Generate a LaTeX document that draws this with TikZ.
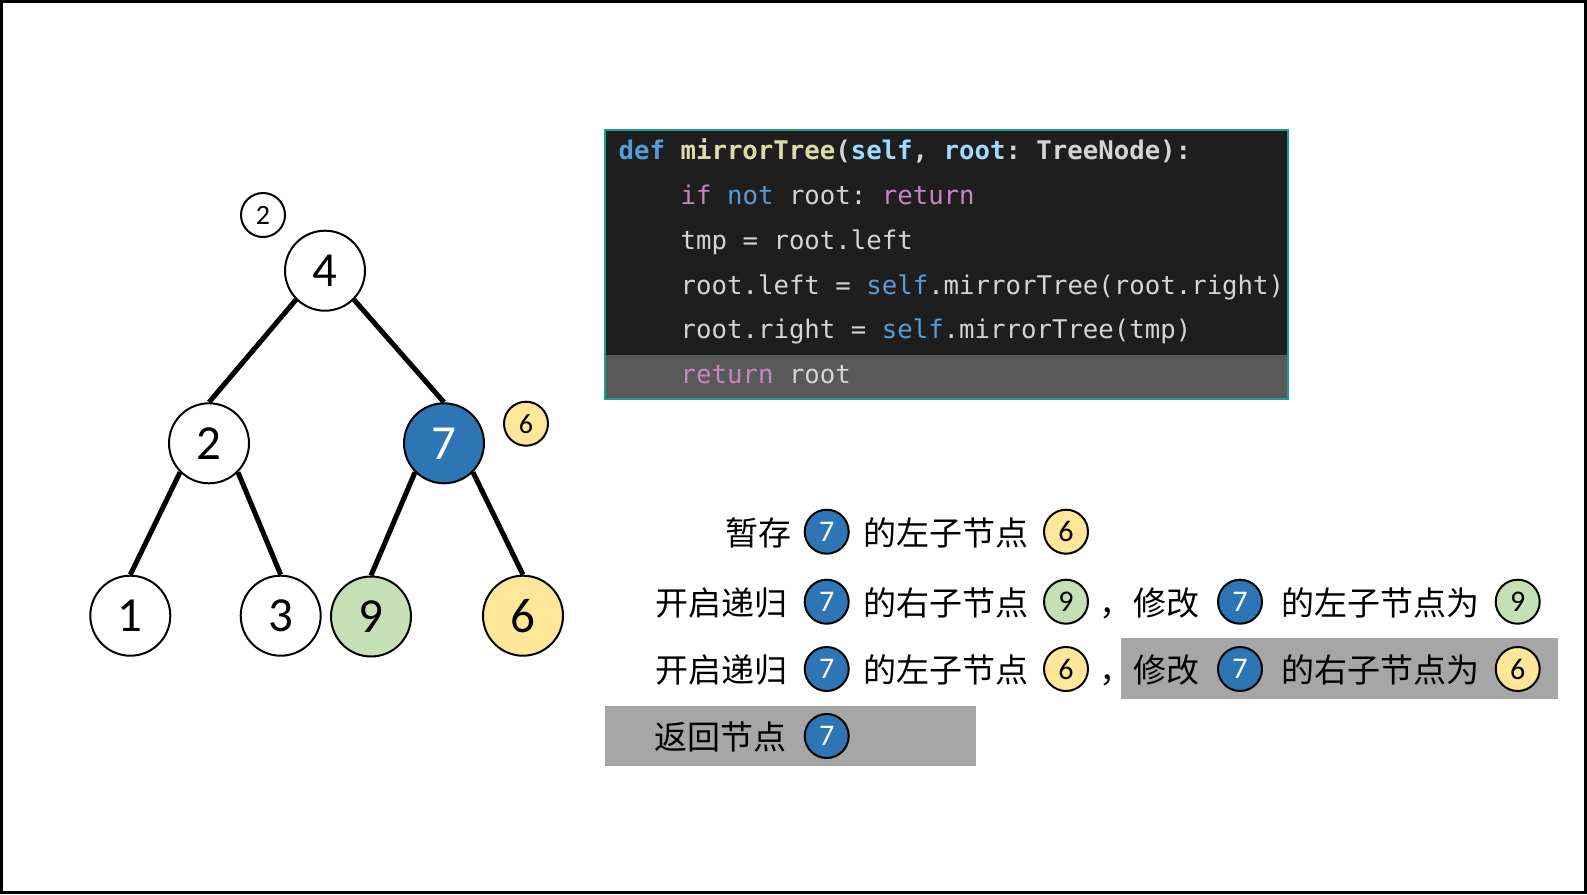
\documentclass[tikz,border=0pt]{standalone}
\usepackage{fontspec}
\setmainfont{Carlito}
\newfontfamily\cjk{Noto Sans CJK SC}
\newfontfamily\codefont{DejaVu Sans Mono}
\usetikzlibrary{backgrounds}
\definecolor{nblue}{HTML}{2E75B6}
\definecolor{nyellow}{HTML}{FFE699}
\definecolor{ngreen}{HTML}{C5E0B4}
\definecolor{hlgray}{HTML}{A6A6A6}
\definecolor{codebg}{HTML}{1E1E1E}
\definecolor{coderow}{HTML}{595959}
\definecolor{codeborder}{HTML}{17A08F}
\definecolor{cfg}{HTML}{D4D4D4}
\definecolor{ckw}{HTML}{569CD6}
\definecolor{cfn}{HTML}{DCDCAA}
\definecolor{cpar}{HTML}{9CDCFE}
\definecolor{cctl}{HTML}{C586C0}
\tikzset{
  tnode/.style={circle, draw=black, line width=2pt, minimum size=80pt, inner sep=0pt, fill=white, font=\fontsize{49}{49}\selectfont},
  snode/.style={circle, draw=black, line width=2pt, minimum size=44pt, inner sep=0pt, fill=white, font=\fontsize{28}{28}\selectfont},
  tcirc/.style={snode, font=\fontsize{30}{30}\selectfont},
  bluec/.style={fill=nblue, text=white},
  yelc/.style={fill=nyellow},
  grnc/.style={fill=ngreen},
  tedge/.style={line width=5pt},
  cn/.style={anchor=base west, inner sep=0pt, font=\cjk\fontsize{33}{33}\selectfont},
  cline/.style={anchor=base west, inner sep=0pt, font=\codefont\fontsize{25.7}{25.7}\selectfont\frenchspacing, text=cfg},
}
\begin{document}
\frenchspacing
\begin{tikzpicture}[x=1pt, y=-1pt]
\useasboundingbox (0,0) rectangle (1587,894);
\draw[line width=3pt] (1.5,1.5) rectangle (1585.5,892.5);

% tree
\node[tnode] (n4) at (325,270.7) {4};
\node[tnode] (n2) at (209,443.3) {2};
\node[tnode, bluec] (n7) at (444,443.3) {7};
\node[tnode] (n1) at (130.3,615.7) {1};
\node[tnode] (n3) at (280.7,615.7) {3};
\node[tnode, grnc] (n9) at (371,616.5) {9};
\node[tnode, yelc] (n6) at (523,615.7) {6};
\node[snode] (s2) at (263,215) {2};
\node[snode, yelc] (s6) at (526,423.7) {6};
\begin{scope}[on background layer]
\draw[tedge] (n4.south west) -- (n2.north);
\draw[tedge] (n4.south east) -- (n7.north);
\draw[tedge] (n2.south west) -- (n1.north);
\draw[tedge] (n2.south east) -- (n3.north);
\draw[tedge] (n7.south west) -- (n9.north);
\draw[tedge] (n7.south east) -- (n6.north);
\end{scope}

% code box
\fill[codebg] (605,130) rectangle (1288,399);
\fill[coderow] (605,355) rectangle (1288,399);
\draw[codeborder, line width=2pt] (605,130) rectangle (1288,399);
\node[cline] (c1) at (618.5,159.3) {\bfseries\textcolor{ckw}{def} \textcolor{cfn}{mirrorTree}(\textcolor{cpar}{self}, \textcolor{cpar}{root}: TreeNode):};
\node[cline] (c2) at (680.5,204.2) {\textcolor{cctl}{if} \textcolor{ckw}{not} root: \textcolor{cctl}{return}};
\node[cline] (c3) at (680.5,249.1) {tmp = root.left};
\node[cline] (c4) at (680.5,294) {root.left = \textcolor{ckw}{self}.mirrorTree(root.right)};
\node[cline] (c5) at (680.5,338.9) {root.right = \textcolor{ckw}{self}.mirrorTree(tmp)};
\node[cline] (c6) at (680.5,383.8) {\textcolor{cctl}{return} root};

% highlight bars
\fill[hlgray] (1120.7,638.3) rectangle (1557.7,699);
\fill[hlgray] (605,706) rectangle (976,766);

% line 1
\node[cn] (t1a) at (725,545.2) {暂存};
\node[tcirc, bluec] (l1a) at (826.7,531.7) {7};
\node[cn] (t1b) at (863.5,545.2) {的左子节点};
\node[tcirc, yelc] (l1b) at (1066,531.7) {6};
% line 2
\node[cn] (t2a) at (655,615.2) {开启递归};
\node[tcirc, bluec] (l2a) at (826.7,601.7) {7};
\node[cn] (t2b) at (863.5,615.2) {的右子节点};
\node[tcirc, grnc] (l2b) at (1066,601.7) {9};
\node[cn] (t2c) at (1099,615.2) {，};
\node[cn] (t2d) at (1133.5,615.2) {修改};
\node[tcirc, bluec] (l2c) at (1240,601.7) {7};
\node[cn] (t2e) at (1281.5,615.2) {的左子节点为};
\node[tcirc, grnc] (l2d) at (1517.7,601.7) {9};
% line 3
\node[cn] (t3a) at (655,682.5) {开启递归};
\node[tcirc, bluec] (l3a) at (826.7,669) {7};
\node[cn] (t3b) at (863.5,682.5) {的左子节点};
\node[tcirc, yelc] (l3b) at (1066,669) {6};
\node[cn] (t3c) at (1099,682.5) {，};
\node[cn] (t3d) at (1133.5,682.5) {修改};
\node[tcirc, bluec] (l3c) at (1240,669) {7};
\node[cn] (t3e) at (1281.5,682.5) {的右子节点为};
\node[tcirc, yelc] (l3d) at (1517.7,669) {6};
% line 4
\node[cn] (t4a) at (654.5,749.5) {返回节点};
\node[tcirc, bluec] (l4a) at (826.7,736) {7};
\end{tikzpicture}
\end{document}
